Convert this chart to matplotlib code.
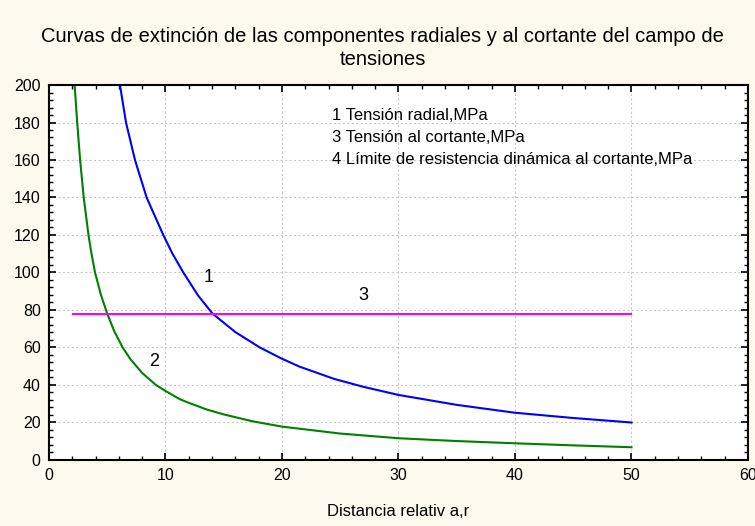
import numpy as np
import matplotlib.pyplot as plt
from matplotlib.ticker import MultipleLocator

plt.rcParams['font.family'] = ['Liberation Sans', 'DejaVu Sans']

# Curve 1: radial stress (blue)
r_radial = [6.09, 6.61, 7.38, 8.38, 9.81, 10.6, 11.53, 12.8, 14.05, 16, 18.1, 20, 21.5,
            24.5, 27, 30, 35, 40, 45, 50]
s_radial = [200, 180, 160, 140, 120, 110, 100, 87.7, 78, 68.2, 60, 54, 49.8,
            43.2, 39, 34.7, 29.4, 25.2, 22.4, 20]

# Curve 2: shear stress (green)
r_shear = [2.2, 2.42, 2.67, 2.98, 3.39, 3.58, 3.95, 4.45, 5.0, 5.6, 6.32, 7, 8, 9.18, 10,
           11.24, 12, 13.5, 15, 17.5, 20, 25, 30, 35, 40, 45, 50]
s_shear = [200, 180, 160, 140, 120, 112.4, 100, 88.2, 78, 68.7, 60, 53.7, 46.4, 40, 36.8,
           32.4, 30.5, 27, 24.3, 20.6, 17.8, 14.1, 11.6, 10.1, 8.9, 7.8, 6.8]

# Curve 3: dynamic shear strength limit (magenta)
r_limit = [2.03, 50]
s_limit = [78, 78]

legend_lines = ['1 Tensión radial,MPa',
                '3 Tensión al cortante,MPa',
                '4 Límite de resistencia dinámica al cortante,MPa']

bg = '#fdf9ee'
fig = plt.figure(figsize=(7.55, 5.26), dpi=100, facecolor=bg)
ax = fig.add_axes([0.0649, 0.1255, 0.9258, 0.7129])
ax.set_facecolor('white')

ax.plot(r_radial, s_radial, color='#0000ff', lw=1.5)
ax.plot(r_shear, s_shear, color='#008000', lw=1.5)
ax.plot(r_limit, s_limit, color='#ff00ff', lw=1.5)

ax.set_xlim(0, 60)
ax.set_ylim(0, 200)
ax.xaxis.set_major_locator(MultipleLocator(10))
ax.xaxis.set_minor_locator(MultipleLocator(2))
ax.yaxis.set_major_locator(MultipleLocator(20))
ax.yaxis.set_minor_locator(MultipleLocator(4))
ax.tick_params(which='both', direction='in', top=True, right=True,
               labelsize=11.5, colors='black', pad=6)
ax.tick_params(which='major', length=5, width=1.2)
ax.tick_params(which='minor', length=3, width=1.0)
for s in ax.spines.values():
    s.set_linewidth(1.5)
ax.grid(True, which='major', color='#c8c8c8', linestyle=(0, (2, 2)), linewidth=0.8)

ax.text(13.7, 97.4, '1', fontsize=13, ha='center', va='center')
ax.text(9.04, 52.4, '2', fontsize=13, ha='center', va='center')
ax.text(27, 87.5, '3', fontsize=13, ha='center', va='center')

for i, t in enumerate(legend_lines):
    ax.text(24.3, 184 - i * 12, t, fontsize=12, ha='left', va='center')

fig.text(0.507, 0.909, 'Curvas de extinción de las componentes radiales y al cortante del campo de\ntensiones',
         ha='center', va='center', fontsize=14.5, linespacing=1.25)
fig.text(0.527, 0.027, 'Distancia relativ a,r', ha='center', va='center', fontsize=12)

fig.savefig('out.png', dpi=100, facecolor=bg)
